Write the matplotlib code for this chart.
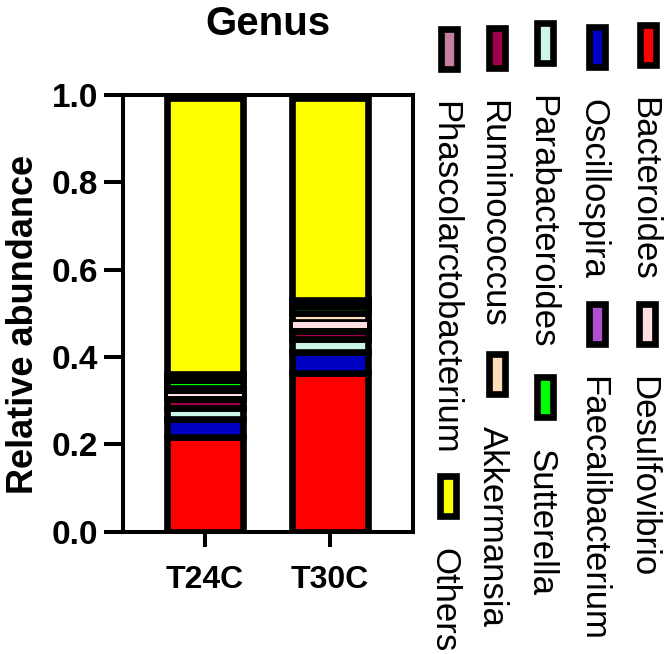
import matplotlib
matplotlib.use("Agg")
import matplotlib.pyplot as plt
from matplotlib.patches import Rectangle
import numpy as np

plt.rcParams['font.family'] = ['Liberation Sans', 'DejaVu Sans']

# ---------------- data ----------------
samples = ["T24C", "T30C"]
genera = ["Bacteroides", "Oscillospira", "Parabacteroides", "Ruminococcus",
          "Phascolarctobacterium", "Desulfovibrio", "Faecalibacterium",
          "Sutterella", "Akkermansia", "Others"]
colors = ["#FF0000", "#0000C0", "#CCF7E8", "#A0004C", "#C47EA0",
          "#FFDDE0", "#B050D0", "#00FF00", "#FFDDB8", "#FFFF00"]

bacteroides = [0.2177, 0.3644]
oscillospira = [0.0413, 0.0481]
parabacteroides = [0.0236, 0.0291]
ruminococcus = [0.0206, 0.0174]
phascolarctobacterium = [0.0077, 0.0070]
desulfovibrio = [0.0053, 0.0143]
faecalibacterium = [0.0140, 0.0140]
sutterella = [0.0176, 0.0140]
akkermansia = [0.0140, 0.0215]
others = [0.6322, 0.4632]

values = {
    "Bacteroides": bacteroides, "Oscillospira": oscillospira,
    "Parabacteroides": parabacteroides, "Ruminococcus": ruminococcus,
    "Phascolarctobacterium": phascolarctobacterium, "Desulfovibrio": desulfovibrio,
    "Faecalibacterium": faecalibacterium, "Sutterella": sutterella,
    "Akkermansia": akkermansia, "Others": others,
}
# stacking order in the bars (bottom -> top)
stack_order = ["Bacteroides", "Oscillospira", "Parabacteroides", "Ruminococcus",
               "Phascolarctobacterium", "Desulfovibrio", "Akkermansia",
               "Sutterella", "Faecalibacterium", "Others"]

# ---------------- figure ----------------
W, H = 666, 654
fig = plt.figure(figsize=(W / 100, H / 100), dpi=100)
ax = fig.add_axes([122.5 / W, 1 - 531.7 / H, 290.5 / W, 436.7 / H])

x = np.arange(len(samples))
bar_w = 0.613
bottom = np.zeros(len(samples))
color_of = dict(zip(genera, colors))
bottoms = {}
for g in stack_order:
    v = np.array(values[g])
    bottoms[g] = bottom.copy()
    ax.bar(x, v, width=bar_w, bottom=bottom, color=color_of[g],
           edgecolor="black", linewidth=4.8, zorder=2)
    bottom += v
# Desulfovibrio band is drawn over its neighbours' outlines (as in the original)
g = "Desulfovibrio"
ax.bar(x, values[g], width=bar_w - 0.026, bottom=bottoms[g], color=color_of[g],
       edgecolor="none", linewidth=0, zorder=3)

ax.set_xlim(-0.66, 1.664)
ax.set_ylim(0, 1.0)
ax.set_yticks([0, 0.2, 0.4, 0.6, 0.8, 1.0])
ax.set_yticklabels(["0.0", "0.2", "0.4", "0.6", "0.8", "1.0"])
ax.set_xticks(x)
ax.set_xticklabels(samples)
for s in ax.spines.values():
    s.set_linewidth(2.9)
    s.set_color("black")
    s.set_zorder(5)
ax.tick_params(axis="y", direction="out", length=14, width=2.9, pad=3.5,
               labelsize=24)
ax.tick_params(axis="x", direction="out", length=11, width=2.9, pad=13,
               labelsize=23)
for lab in ax.get_xticklabels() + ax.get_yticklabels():
    lab.set_fontweight("bold")

ax.set_ylabel("Relative abundance", fontsize=26, fontweight="bold")
ax.yaxis.set_label_coords(-0.28, 0.4756)

fig.text(268 / W, 1 - 35 / H, "Genus", ha="center", va="baseline",
         fontsize=29, fontweight="bold")

# ---------------- legend (rotated) ----------------
leg_pos = {
    "Bacteroides": (647.7, 45), "Oscillospira": (596.7, 46.7),
    "Parabacteroides": (545.3, 43.3), "Ruminococcus": (496.7, 48.3),
    "Phascolarctobacterium": (449, 49), "Desulfovibrio": (647, 324),
    "Faecalibacterium": (596.7, 324), "Sutterella": (545, 397),
    "Akkermansia": (496.7, 374), "Others": (448.3, 496),
}
hw, hh = 16.3, 40.3
for g in genera:
    cx, cy = leg_pos[g]
    r = Rectangle(((cx - hw / 2) / W, 1 - (cy + hh / 2) / H), hw / W, hh / H,
                  transform=fig.transFigure, facecolor=color_of[g],
                  edgecolor="black", linewidth=4.8)
    fig.add_artist(r)
    fig.text((cx - 13.5) / W, 1 - (cy + 52) / H, g, rotation=-90,
             rotation_mode="anchor", ha="left", va="baseline", fontsize=25)

fig.savefig("out.png", dpi=100)
